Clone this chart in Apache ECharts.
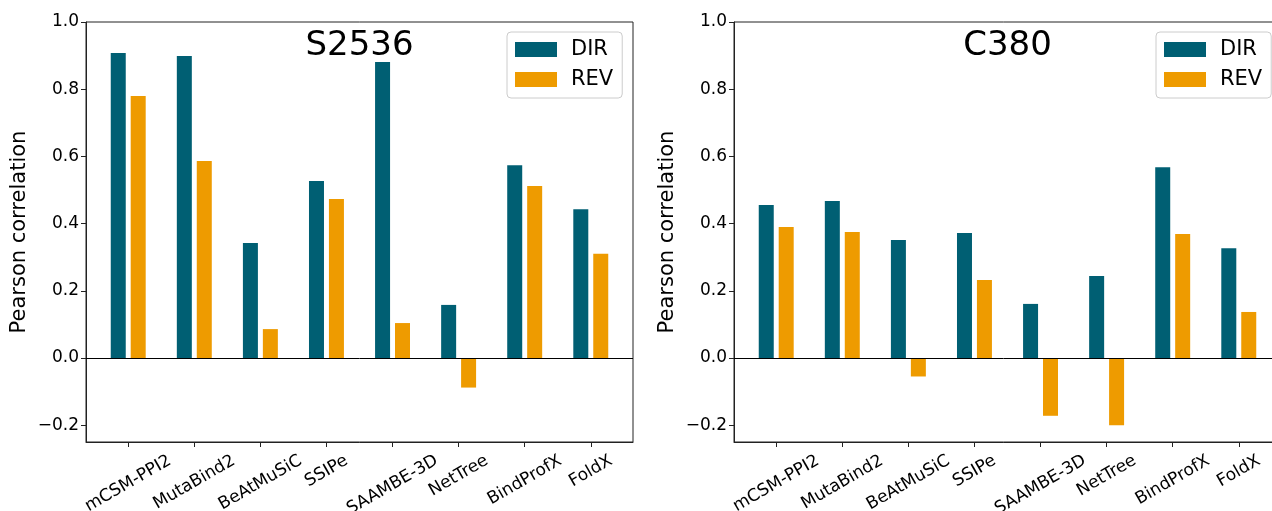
<!DOCTYPE html>
<html>
<head>
<meta charset="utf-8">
<script src="https://cdn.jsdelivr.net/npm/echarts@6/dist/echarts.min.js"></script>
<style>
html,body{margin:0;padding:0;background:#fff;}
#chart{width:1272px;height:511px;}
</style>
</head>
<body>
<div id="chart"></div>
<script>
const categories = ['mCSM-PPI2','MutaBind2','BeAtMuSiC','SSIPe','SAAMBE-3D','NetTree','BindProfX','FoldX'];
const seriesNames = ['DIR','REV'];
const panelTitles = ['S2536','C380'];
const s2536Dir = [0.908, 0.899, 0.342, 0.527, 0.881, 0.158, 0.574, 0.443];
const s2536Rev = [0.780, 0.586, 0.086, 0.473, 0.104, -0.088, 0.512, 0.310];
const c380Dir  = [0.455, 0.467, 0.351, 0.372, 0.161, 0.244, 0.568, 0.327];
const c380Rev  = [0.390, 0.375, -0.055, 0.232, -0.172, -0.200, 0.369, 0.137];
const yTicks = [-0.2, 0.0, 0.2, 0.4, 0.6, 0.8, 1.0];
const yLabel = 'Pearson correlation';

const FONT = 'DejaVu Sans';
const TICK_FS = 17;
const COLORS = ['#005f73', '#ee9b00'];
const AX = '#222';
const catIdx = categories.map((c, i) => i);

const grids = [
  {left: 86, top: 22, width: 547, height: 420},
  {left: 734, top: 22, width: 547, height: 420}
];

// Rotated x labels: emulate matplotlib (rotation 30, ha=center, va=top):
// label centre drops by width/4, so shift each label via rich padding.
const mctx = document.createElement('canvas').getContext('2d');
mctx.font = TICK_FS + 'px "' + FONT + '"';
const labW = categories.map(c => mctx.measureText(c).width);
const wMin = Math.min.apply(null, labW);
const rich = {};
categories.forEach((c, i) => {
  const d = (labW[i] - wMin) / 4;
  rich['c' + i] = {
    fontFamily: FONT, fontSize: TICK_FS, color: '#000',
    padding: [1.732 * d, d, 0, 0]
  };
});

function xAxis(gi) {
  return {
    type: 'value', gridIndex: gi, min: -0.639, max: 7.639,
    axisLine: {show: true, onZero: false, lineStyle: {color: AX, width: 1}},
    axisTick: {show: true, length: 5, customValues: catIdx, lineStyle: {color: AX, width: 1}},
    axisLabel: {
      customValues: catIdx,
      formatter: v => { const i = Math.round(v); return '{c' + i + '|' + categories[i] + '}'; },
      rich: rich,
      rotate: 30, align: 'center', verticalAlign: 'middle', margin: 17.5 + wMin / 4,
      fontFamily: FONT, fontSize: TICK_FS, color: '#000'
    },
    splitLine: {show: false}
  };
}
function yAxis(gi) {
  return {
    type: 'value', gridIndex: gi, min: -0.25, max: 1.0,
    name: yLabel, nameLocation: 'middle', nameGap: 56,
    nameTextStyle: {fontFamily: FONT, fontSize: 21, color: '#000'},
    axisLine: {show: true, onZero: false, lineStyle: {color: AX, width: 1}},
    axisTick: {show: true, length: 5, customValues: yTicks, lineStyle: {color: AX, width: 1}},
    axisLabel: {
      customValues: yTicks, margin: 7,
      formatter: v => (v < -1e-9 ? '\u2212' : '') + Math.abs(v).toFixed(1),
      fontFamily: FONT, fontSize: TICK_FS, color: '#000'
    },
    splitLine: {show: false}
  };
}
function bars(name, vals, gi, color, withZero) {
  const s = {
    type: 'bar', name: name, xAxisIndex: gi, yAxisIndex: gi,
    data: vals.map((v, i) => [i, v]),
    barWidth: 15, barGap: '33%',
    itemStyle: {color: color},
    z: 2
  };
  if (withZero) {
    s.markLine = {
      silent: true, symbol: 'none', animation: false,
      label: {show: false},
      lineStyle: {color: '#000', width: 1, type: 'solid'},
      data: [{yAxis: 0}], z: 5
    };
  }
  return s;
}
function legend(left) {
  return {
    left: left, top: 32, orient: 'vertical',
    data: seriesNames,
    icon: 'rect', itemWidth: 42, itemHeight: 15, itemGap: 9,
    padding: [7, 9, 8, 8],
    borderColor: '#cccccc', borderWidth: 1, borderRadius: 4,
    backgroundColor: 'rgba(255,255,255,0.8)',
    textStyle: {fontFamily: FONT, fontSize: 21, color: '#000', padding: [0, 0, 0, 9]},
    selectedMode: false
  };
}

const chart = echarts.init(document.getElementById('chart'), null, {renderer: 'canvas'});
chart.setOption({
  animation: false,
  backgroundColor: '#fff',
  color: COLORS,
  title: panelTitles.map((t, i) => ({
    text: t, left: grids[i].left + grids[i].width / 2, top: 29, textAlign: 'center', padding: 0,
    textStyle: {fontFamily: FONT, fontSize: 34, fontWeight: 'normal', color: '#000'}
  })),
  legend: [legend(507), legend(1156)],
  grid: grids.map(g => Object.assign({show: true, borderColor: AX, borderWidth: 1, backgroundColor: 'transparent', containLabel: false, outerBoundsMode: 'none'}, g)),
  xAxis: [xAxis(0), xAxis(1)],
  yAxis: [yAxis(0), yAxis(1)],
  series: [
    bars(seriesNames[0], s2536Dir, 0, COLORS[0], true),
    bars(seriesNames[1], s2536Rev, 0, COLORS[1], false),
    bars(seriesNames[0], c380Dir, 1, COLORS[0], true),
    bars(seriesNames[1], c380Rev, 1, COLORS[1], false)
  ]
});
</script>
</body>
</html>
